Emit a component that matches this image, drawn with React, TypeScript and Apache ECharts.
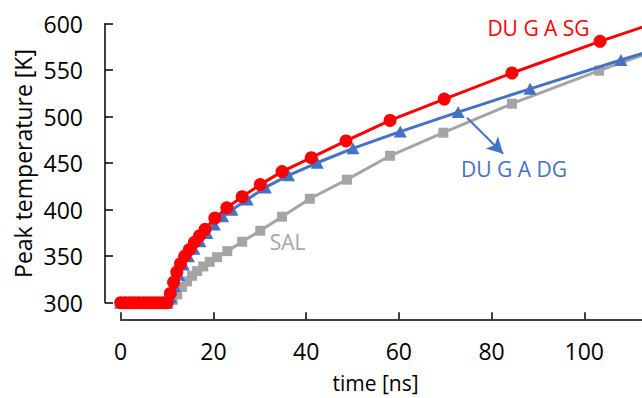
import React, { useEffect, useRef } from "react";
import * as echarts from "echarts";

// ---- data (time in ns, temperature in K) ----
const sgTime = [0, 1, 2, 3, 4, 5, 6, 7, 8, 9, 10, 10.7, 11.4, 12.1, 12.9, 13.8, 14.8, 15.9, 17.0, 18.2, 20.3, 22.9, 26.2, 30.1, 34.8, 41.1, 48.6, 58.1, 69.8, 84.4, 103.4, 126];
const sgTemp = [300, 300, 300, 300, 300, 300, 300, 300, 300, 300, 300, 310, 322, 333, 342, 350, 357, 365, 372, 379, 391, 402, 414, 427, 441, 456, 474, 496, 519, 547, 581, 619];

const dgTime = [0, 1, 2, 3, 4, 5, 6, 7, 8, 9, 10, 10.8, 11.6, 12.5, 13.5, 14.6, 15.8, 17.1, 18.6, 20.2, 22.0, 24.0, 27.3, 31.2, 36.2, 42.4, 50.1, 60.3, 72.8, 88.3, 107.9, 132];
const dgTemp = [300, 300, 300, 300, 300, 300, 300, 300, 300, 300, 300, 306, 318, 330, 341, 350, 358, 366, 375, 384, 393, 400, 411, 424, 437, 450.5, 466, 484, 505, 530, 561, 597];

const salTime = [0, 1, 2, 3, 4, 5, 6, 7, 8, 9, 10, 11.2, 12.2, 13.2, 14.3, 15.4, 16.5, 17.8, 19.2, 20.8, 23.0, 26.2, 30.1, 34.8, 40.8, 48.8, 58.1, 69.6, 84.4, 103.2, 126];
const salTemp = [300, 300, 300, 300, 300, 300, 300, 300, 300, 300, 300, 303, 309, 317, 323, 329, 334, 339, 344, 349, 355.5, 365.6, 377.4, 392.5, 411.8, 432.3, 458, 482.8, 514, 549.5, 590];

const seriesNames = ["DU G A SG", "DU G A DG", "SAL"];
const xTitle = "time [ns]";
const yTitle = "Peak temperature [K]";

// arrow annotation (data coordinates)
const arrowFrom = [74.7, 498.9];
const arrowTo = [82.5, 460.2];

const RED = "#FF0000";
const BLUE = "#4472C4";
const GRAY = "#A5A5A5";
const FONT = "'Open Sans', sans-serif";

const zip = (a: number[], b: number[]) => a.map((v, i) => [v, b[i]]);

export default function App() {
  const ref = useRef<HTMLDivElement>(null);
  useEffect(() => {
    if (!ref.current) return;
    const chart = echarts.init(ref.current, undefined, { renderer: "svg" });
    const axisLine = { show: true, lineStyle: { color: "#000", width: 1.5 } };
    chart.setOption({
      animation: false,
      backgroundColor: "#fff",
      grid: [
        { left: 120.7, top: 23.7, right: -35, height: 295.6, outerBoundsMode: "none", containLabel: false },
        { left: 105, top: 23.7, width: 10, height: 279, outerBoundsMode: "none", containLabel: false },
      ],
      xAxis: [
        {
          gridIndex: 0,
          type: "value",
          min: 0,
          max: 120,
          interval: 20,
          axisLine,
          axisTick: { show: true, inside: true, length: 7, lineStyle: { color: "#000", width: 1.5 } },
          axisLabel: {
            margin: 20,
            fontSize: 23,
            color: "#000",
            fontFamily: FONT,
            showMaxLabel: false,
            formatter: (v: number) => (v > 110 ? "" : String(v)),
          },
          splitLine: { show: false },
        },
        { gridIndex: 1, type: "value", min: 0, max: 1, show: false },
      ],
      yAxis: [
        { gridIndex: 0, type: "value", min: 282.2, max: 600, show: false },
        {
          gridIndex: 1,
          type: "value",
          min: 300,
          max: 600,
          interval: 50,
          axisLine,
          axisTick: { show: true, inside: true, length: 8, lineStyle: { color: "#000", width: 1.5 } },
          axisLabel: { margin: 22, fontSize: 23, color: "#000", fontFamily: FONT },
          splitLine: { show: false },
        },
      ],
      series: [
        {
          name: seriesNames[2],
          type: "line",
          xAxisIndex: 0,
          yAxisIndex: 0,
          data: zip(salTime, salTemp),
          symbol: "rect",
          symbolSize: 10,
          lineStyle: { color: GRAY, width: 3 },
          itemStyle: { color: GRAY },
          z: 2,
        },
        {
          name: seriesNames[1],
          type: "line",
          xAxisIndex: 0,
          yAxisIndex: 0,
          data: zip(dgTime, dgTemp),
          symbol: "triangle",
          symbolSize: [13, 12],
          lineStyle: { color: BLUE, width: 3 },
          itemStyle: { color: BLUE },
          z: 3,
          markLine: {
            silent: true,
            symbol: ["none", "arrow"],
            symbolSize: [13, 16],
            label: { show: false },
            lineStyle: { color: BLUE, width: 2, type: "solid" },
            data: [[{ coord: arrowFrom }, { coord: arrowTo }]],
          },
        },
        {
          name: seriesNames[0],
          type: "line",
          xAxisIndex: 0,
          yAxisIndex: 0,
          data: zip(sgTime, sgTemp),
          symbol: "circle",
          symbolSize: 13,
          lineStyle: { color: RED, width: 3 },
          itemStyle: { color: RED },
          z: 4,
        },
      ],
      graphic: [
        { type: "text", x: 538.5, y: 28, style: { text: seriesNames[0], fill: RED, font: `21px ${FONT}`, align: "center", verticalAlign: "middle" } },
        { type: "text", x: 514, y: 169, style: { text: seriesNames[1], fill: BLUE, font: `21px ${FONT}`, align: "center", verticalAlign: "middle" } },
        { type: "text", x: 287.5, y: 241.5, style: { text: seriesNames[2], fill: GRAY, font: `21px ${FONT}`, align: "center", verticalAlign: "middle" } },
        { type: "text", x: 375.5, y: 383, style: { text: xTitle, fill: "#000", font: `21px ${FONT}`, align: "center", verticalAlign: "middle" } },
        { type: "text", x: 23, y: 163.5, rotation: Math.PI / 2, style: { text: yTitle, fill: "#000", font: `23px ${FONT}`, align: "center", verticalAlign: "middle" } },
      ],
    });
    return () => chart.dispose();
  }, []);
  return <div ref={ref} style={{ width: 642, height: 398, position: "absolute", left: 0, top: 0 }} />;
}
